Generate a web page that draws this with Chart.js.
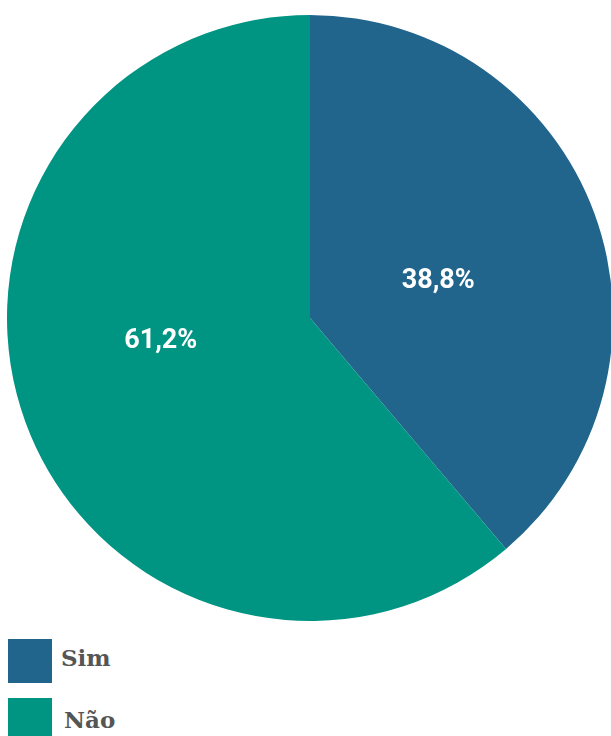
<!DOCTYPE html>
<html>
<head>
<meta charset="utf-8">
<script src="https://cdn.jsdelivr.net/npm/chart.js@4/dist/chart.umd.min.js"></script>
<style>
  html, body { margin: 0; padding: 0; background: #fff; overflow: hidden; }
  body { width: 611px; height: 736px; position: relative; }
  #wrap { position: absolute; left: 7px; top: 15px; width: 606px; height: 606px; }
  #legend { position: absolute; left: 8px; top: 639px; font-family: "DejaVu Serif", serif; font-weight: bold; font-size: 23px; color: #555; }
  .item { display: flex; align-items: center; height: 44px; margin-bottom: 15px; }
  .box { width: 44px; height: 44px; margin-right: 9px; }
  .txt { position: relative; top: -4px; }
</style>
</head>
<body>
<div id="wrap"><canvas id="pie"></canvas></div>
<div id="legend"></div>
<script>
const categorias = ['Sim', 'Não'];
const percentuais = [38.8, 61.2];
const cores = ['#21658d', '#009483'];

// rótulos de porcentagem dentro de cada fatia
const rotulos = {
    id: 'rotulos',
    afterDatasetsDraw(chart) {
        const ctx = chart.ctx;
        const meta = chart.getDatasetMeta(0);
        const ajustes = [[-14, 15], [-7, -29]];
        ctx.save();
        ctx.fillStyle = '#fff';
        ctx.font = 'bold 27px Roboto';
        ctx.textAlign = 'center';
        ctx.textBaseline = 'middle';
        meta.data.forEach((arc, i) => {
            const p = arc.getCenterPoint();
            const txt = percentuais[i].toFixed(1).replace('.', ',') + '%';
            ctx.fillText(txt, p.x + ajustes[i][0], p.y + ajustes[i][1]);
        });
        ctx.restore();
    }
};

const ctx = document.getElementById('pie').getContext('2d');
const pie = new Chart(ctx, {
    type: 'pie',
    data: {
        labels: categorias,
        datasets: [{
            data: percentuais,
            backgroundColor: cores,
            borderWidth: 0
        }]
    },
    options: {
        responsive: true,
        maintainAspectRatio: false,
        animation: false,
        layout: { padding: 0 },
        plugins: {
            legend: { display: false },
            tooltip: { enabled: false }
        }
    },
    plugins: [rotulos]
});

// legenda
const legend = document.getElementById('legend');
categorias.forEach((c, i) => {
    const item = document.createElement('div');
    item.className = 'item';
    item.innerHTML = '<span class="box" style="background:' + cores[i] + '"></span><span class="txt"' +
        (i === 1 ? ' style="margin-left:3px;top:-1px"' : '') + '>' + c + '</span>';
    legend.appendChild(item);
});
</script>
</body>
</html>
